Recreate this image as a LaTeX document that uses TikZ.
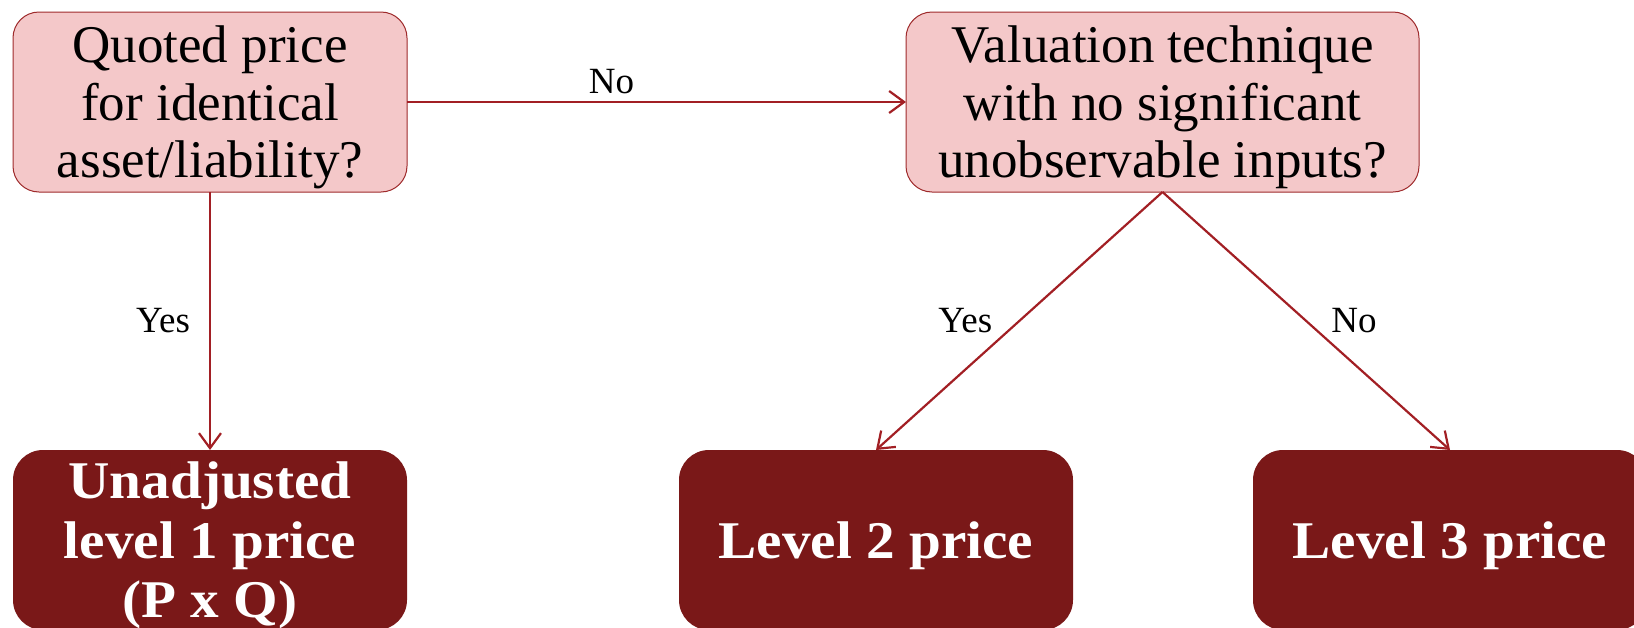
\documentclass[tikz,border=0pt]{standalone}
\usepackage{fontspec}
\setmainfont{Liberation Serif}
\newfontfamily\widebold[FakeStretch=1.08]{Liberation Serif}
\usetikzlibrary{arrows.meta}

\definecolor{qfill}{HTML}{F4C8C9}
\definecolor{qline}{HTML}{9E2A2B}
\definecolor{lvlfill}{HTML}{7A1818}
\definecolor{flow}{HTML}{A21F24}

\tikzset{
  question/.style={rectangle, rounded corners=26pt, fill=qfill, draw=qline,
    line width=1pt, minimum height=180pt, outer sep=0pt, inner sep=0pt,
    text depth=0pt, align=center, font=\rmfamily\fontsize{53}{57.5}\selectfont},
  level/.style={rectangle, rounded corners=30pt, fill=lvlfill, text=white,
    minimum width=394pt, minimum height=180pt, outer sep=0pt, inner sep=0pt,
    text depth=0pt, align=center, font=\widebold\bfseries\fontsize{53}{59.5}\selectfont},
  flowline/.style={draw=flow, line width=2.2pt,
    -{Straight Barb[length=15pt,width=22pt]}},
  lbl/.style={font=\rmfamily\fontsize{37}{40}\selectfont, inner sep=0pt, text=black}
}

\begin{document}
\begin{tikzpicture}[x=1pt, y=-1pt]
  \useasboundingbox (0,0) rectangle (1634,627);
  \clip (0,0) rectangle (1634,627);

  % decision boxes
  \node[question, minimum width=394pt] (quoted) at (210,102)
    {Quoted price\\for identical\\asset/liability?};
  \node[question, minimum width=513pt] (valuation) at (1162.5,102)
    {Valuation technique\\with no significant\\unobservable inputs?};

  % outcome boxes
  \node[level] (lvl1) at (210,540) {Unadjusted\\level 1 price\\(P x Q)};
  \node[level] (lvl2) at (876,540) {Level 2 price};
  \node[level] (lvl3) at (1450,540) {Level 3 price};

  % connectors
  \draw[flowline] (quoted.east) -- node[lbl, pos=0.41, anchor=base, yshift=9pt] {No} (valuation.west);
  \draw[flowline] (quoted.south) -- node[lbl, pos=0.5, left=19pt] {Yes} (lvl1.north);
  \draw[flowline] (valuation.south) -- node[lbl, pos=0.5, left=26pt] {Yes} (lvl2.north);
  \draw[flowline] (valuation.south) -- node[lbl, pos=0.5, right=24pt] {No} (lvl3.north);
\end{tikzpicture}
\end{document}
